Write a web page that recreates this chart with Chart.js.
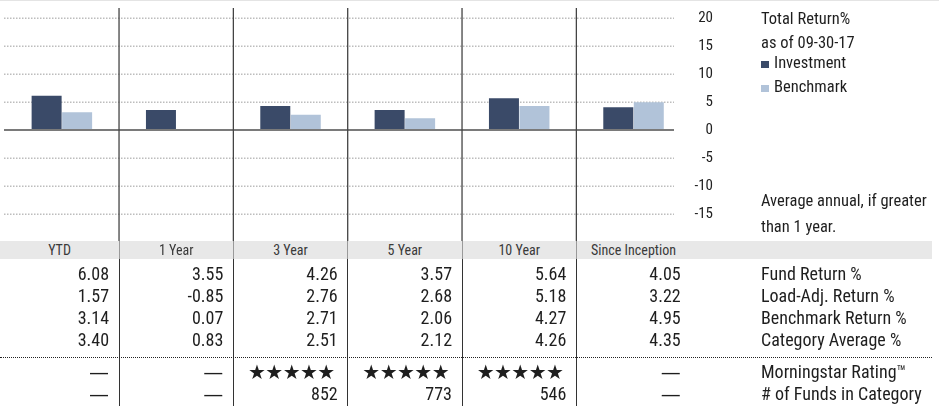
<!DOCTYPE html>
<html><head><meta charset="utf-8">
<script src="https://cdn.jsdelivr.net/npm/chart.js@4.4.0/dist/chart.umd.min.js"></script>
<style>
html,body{margin:0;padding:0;background:#fff;}
body{width:939px;height:406px;overflow:hidden;position:relative;font-family:"Liberation Sans Narrow","Arial Narrow","Roboto Condensed","DejaVu Sans Condensed",sans-serif;color:#1e1e1e;}
#topline{position:absolute;left:0;top:0;width:939px;height:1px;background:#e4e4e4;}
#wrap{position:absolute;left:0;top:0;width:939px;height:242px;}
.t{position:absolute;white-space:nowrap;}
.ann{font-size:16.5px;line-height:20px;}
.hdr{font-size:14px;line-height:17px;text-align:center;color:#3a3a3a;}
.cell{font-size:18px;line-height:22px;text-align:right;}
.lab{font-size:18px;line-height:22px;}
.sw{position:absolute;width:8px;height:7px;}
.stars{font-family:"DejaVu Sans",sans-serif;font-size:20px;letter-spacing:-0.6px;}
.dash{font-family:"DejaVu Sans",sans-serif;font-size:20px;}
</style></head>
<body>
<div id="topline"></div>
<div id="wrap"><canvas id="c" width="939" height="242"></canvas></div>
<div id="extra"></div>
<script>
const categories = ['YTD','1 Year','3 Year','5 Year','10 Year','Since Inception'];
const investment = [6.08, 3.55, 4.26, 3.57, 5.64, 4.05];
const benchmark = [3.14, 0.07, 2.71, 2.06, 4.27, 4.95];
const loadAdjReturn = [1.57, -0.85, 2.76, 2.68, 5.18, 3.22];
const categoryAverage = [3.40, 0.83, 2.51, 2.12, 4.26, 4.35];
const morningstarStars = [null, null, 5, 5, 5, null];
const fundsInCategory = [null, null, 852, 773, 546, null];
const rowLabels = ['Fund Return %','Load-Adj. Return %','Benchmark Return %','Category Average %','Morningstar Rating\u2122','# of Funds in Category'];
const yTicks = [20, 15, 10, 5, 0, -5, -10, -15];
const seriesNames = ['Investment','Benchmark'];
const seriesColors = ['#3a4a68','#b1c3d9'];
const titleLines = ['Total Return%','as of 09-30-17'];
const noteLines = ['Average annual, if greater','than 1 year.'];

const FONT = '"Liberation Sans Narrow","Arial Narrow","Roboto Condensed","DejaVu Sans Condensed",sans-serif';
const tickSize = 15;
const axisWidth = 22.3;
const mctx = document.createElement('canvas').getContext('2d');
mctx.font = tickSize + 'px ' + FONT;
const widest = Math.max(...yTicks.map(v => mctx.measureText(String(v)).width));

function bounds(chart){
  const n = categories.length;
  const w = (chart.chartArea.right - chart.chartArea.left) / n;
  const b = [];
  for (let i = 0; i <= n; i++) b.push(chart.chartArea.left + i * w);
  return b;
}

const decor = {
  id: 'decor',
  beforeDatasetsDraw(chart){
    const c = chart.ctx, y = chart.scales.y;
    c.save();
    c.strokeStyle = '#bdbdbd'; c.lineWidth = 1.5; c.setLineDash([1.5, 1.5]);
    yTicks.forEach(v => {
      if (v === 0) return;
      const py = Math.round(y.getPixelForValue(v)) + 0.25;
      c.beginPath(); c.moveTo(4, py); c.lineTo(674, py); c.stroke();
    });
    c.restore();
  },
  afterDatasetsDraw(chart){
    const c = chart.ctx, y = chart.scales.y;
    const b = bounds(chart);
    c.save();
    c.strokeStyle = '#7a7a7a'; c.lineWidth = 2;
    const p0 = y.getPixelForValue(0);
    c.beginPath(); c.moveTo(4, p0); c.lineTo(674, p0); c.stroke();
    c.strokeStyle = '#444'; c.lineWidth = 1.3;
    for (let i = 1; i < b.length - 1; i++) {
      c.beginPath(); c.moveTo(b[i], 8); c.lineTo(b[i], 242); c.stroke();
    }
    c.restore();
  }
};

const chart = new Chart(document.getElementById('c'), {
  type: 'bar',
  data: {
    labels: categories,
    datasets: [
      {label: seriesNames[0], data: investment, backgroundColor: seriesColors[0], categoryPercentage: 0.5335, barPercentage: 0.9836},
      {label: seriesNames[1], data: benchmark, backgroundColor: seriesColors[1], categoryPercentage: 0.5335, barPercentage: 0.9836}
    ]
  },
  options: {
    responsive: false, animation: false,
    layout: {padding: {left: 4.7, right: 226, top: 8, bottom: 0}},
    plugins: {legend: {display: false}, tooltip: {enabled: false}},
    scales: {
      x: {display: false},
      y: {
        position: 'right', min: -20, max: 21.75,
        grid: {display: false, drawTicks: false}, border: {display: false},
        afterBuildTicks: s => { s.ticks = yTicks.map(v => ({value: v})); },
        afterFit: s => { s.width = axisWidth; s.paddingTop = 0; s.paddingBottom = 0; },
        ticks: {crossAlign: 'far', padding: axisWidth - widest, color: '#222', font: {family: FONT, size: tickSize}}
      }
    }
  },
  plugins: [decor]
});

const ex = document.getElementById('extra');
function add(cls, txt, css){
  const d = document.createElement('div');
  d.className = 't ' + cls; d.textContent = txt;
  Object.assign(d.style, css); ex.appendChild(d); return d;
}
const LX = 761;
add('ann', titleLines[0], {left: LX+'px', top: '9px'});
add('ann', titleLines[1], {left: LX+'px', top: '33px'});
seriesNames.forEach((s, i) => {
  const top = [53, 77][i];
  const sw = document.createElement('div'); sw.className = 'sw';
  Object.assign(sw.style, {left: LX+'px', top: (top+8)+'px', background: seriesColors[i]});
  ex.appendChild(sw);
  add('ann', s, {left: (LX+13)+'px', top: top+'px'});
});
add('ann', noteLines[0], {left: LX+'px', top: '191px'});
add('ann', noteLines[1], {left: LX+'px', top: '217px'});

const b = bounds(chart);
const hb = document.createElement('div');
Object.assign(hb.style, {position:'absolute', left:'0px', top:'241px', width:'932px', height:'18px', background:'#e8e8e8'});
ex.appendChild(hb);
for (let i = 1; i < b.length - 1; i++) {
  const s1 = document.createElement('div');
  Object.assign(s1.style, {position:'absolute', left:(b[i]-0.5)+'px', top:'241px', width:'1.3px', height:'18px', background:'#9a9a9a'});
  ex.appendChild(s1);
  const s2 = document.createElement('div');
  Object.assign(s2.style, {position:'absolute', left:(b[i]-0.5)+'px', top:'259px', width:'1.3px', height:'147px', background:'#333'});
  ex.appendChild(s2);
}
const dl = document.createElement('div');
Object.assign(dl.style, {position:'absolute', left:'0px', top:'357px', width:'932px', height:'0px', borderTop:'1px dotted #222'});
ex.appendChild(dl);

const rowTops = [263, 285, 307, 329, 361, 383];
const fmt = v => v.toFixed(2);
const rows = [
  investment.map(fmt), loadAdjReturn.map(fmt), benchmark.map(fmt), categoryAverage.map(fmt),
  morningstarStars.map(v => v ? '\u2605'.repeat(v) : '\u2014'),
  fundsInCategory.map(v => v ? String(v) : '\u2014')
];
categories.forEach((cat, i) => {
  const l = i === 0 ? 0 : b[i];
  add('hdr', cat, {left: l+'px', top: '242px', width: (b[i+1]-l)+'px'});
  rows.forEach((r, k) => {
    let cls = 'cell';
    if (r[i] === '\u2014') cls += ' dash';
    else if (k === 4) cls += ' stars';
    add(cls, r[i], {left: l+'px', top: rowTops[k]+'px', width: (b[i+1]-l-(k===4 && morningstarStars[i] ? 13 : 10))+'px'});
  });
});
rowLabels.forEach((t, k) => add('lab', t, {left: LX+'px', top: rowTops[k]+'px'}));
</script>
</body></html>
